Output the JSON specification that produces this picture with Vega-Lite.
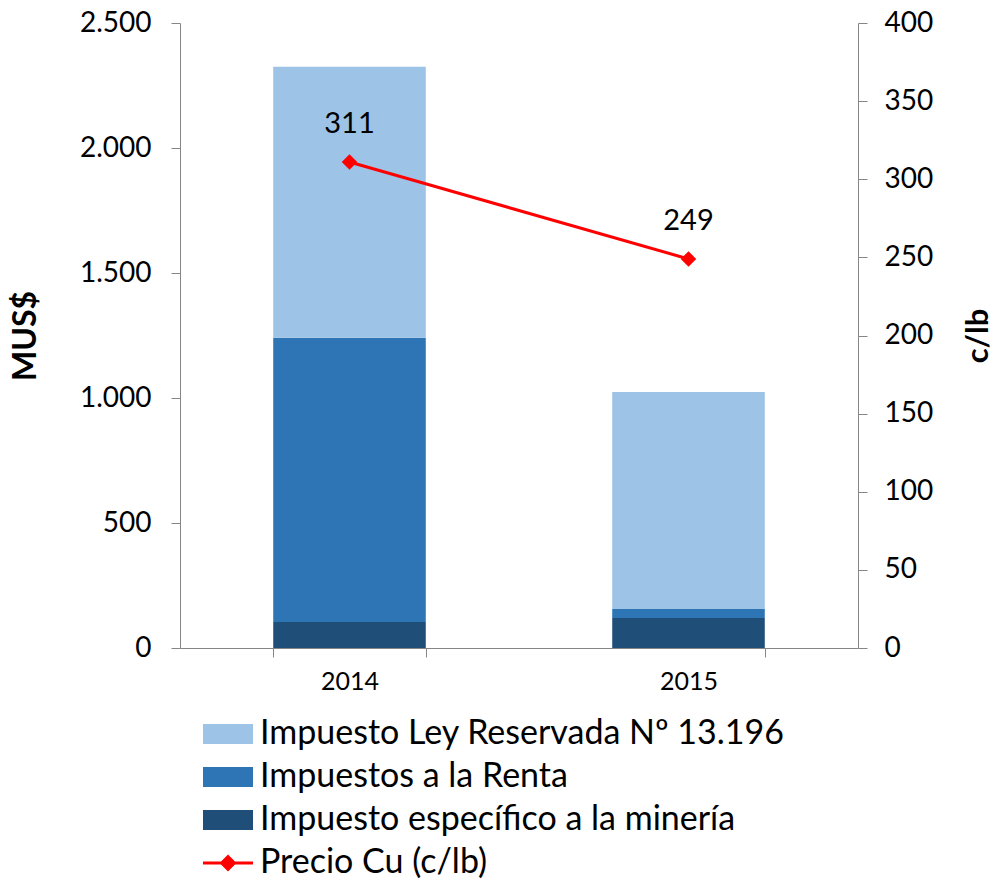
{
  "$schema": "https://vega.github.io/schema/vega-lite/v6.json",
  "width": 678,
  "height": 625,
  "autosize": {"type": "none"},
  "padding": {"left": 180, "top": 23, "right": 137, "bottom": 231},
  "background": "white",
  "config": {
    "view": {"stroke": null},
    "font": "Lato",
    "axis": {"grid": false, "domainColor": "#868686", "tickColor": "#868686", "labelColor": "#000000", "titleColor": "#000000", "labelFont": "Lato", "titleFont": "Lato"}
  },
  "datasets": {
    "impuestos": [
      {"anio": "2014", "serie": "Impuesto específico a la minería", "nivel": 1, "valor": 104},
      {"anio": "2014", "serie": "Impuestos a la Renta", "nivel": 2, "valor": 1137},
      {"anio": "2014", "serie": "Impuesto Ley Reservada Nº 13.196", "nivel": 3, "valor": 1084},
      {"anio": "2015", "serie": "Impuesto específico a la minería", "nivel": 1, "valor": 120},
      {"anio": "2015", "serie": "Impuestos a la Renta", "nivel": 2, "valor": 36},
      {"anio": "2015", "serie": "Impuesto Ley Reservada Nº 13.196", "nivel": 3, "valor": 868}
    ],
    "precio": [
      {"anio": "2014", "precio": 311},
      {"anio": "2015", "precio": 249}
    ]
  },
  "encoding": {
    "x": {
      "field": "anio", "type": "nominal",
      "scale": {"paddingInner": 0.55, "paddingOuter": 0.275},
      "axis": {"title": null, "labelAngle": 0, "labelFontSize": 25, "labelPadding": 12, "tickSize": 9, "tickBand": "extent", "domainColor": "#868686"}
    }
  },
  "layer": [
    {
      "data": {"name": "impuestos"},
      "mark": {"type": "bar"},
      "encoding": {
        "y": {
          "field": "valor", "type": "quantitative", "stack": "zero",
          "scale": {"domain": [0, 2500]},
          "axis": {
            "title": "MUS$", "titleFontSize": 32, "titleFontWeight": "bold", "titlePadding": 37,
            "values": [0, 500, 1000, 1500, 2000, 2500],
            "labelExpr": "replace(format(datum.value, ','), ',', '.')",
            "labelFontSize": 28, "labelPadding": 20, "tickSize": 9
          }
        },
        "order": {"field": "nivel", "type": "quantitative", "sort": "ascending"},
        "color": {
          "field": "serie", "type": "nominal",
          "scale": {
            "domain": ["Impuesto Ley Reservada Nº 13.196", "Impuestos a la Renta", "Impuesto específico a la minería", "Precio Cu  (c/lb)"],
            "range": ["#9DC3E6", "#2E75B6", "#1F4E79", "#FF0000"]
          },
          "legend": {
            "title": null,
            "orient": "none",
            "legendX": 31,
            "legendY": 694,
            "direction": "vertical",
            "symbolSize": 400,
            "labelFontSize": 34,
            "labelFont": "Lato",
            "labelColor": "#000000",
            "labelOffset": 15,
            "rowPadding": 9,
            "labelLimit": 700,
            "encode": {
              "symbols": {
                "update": {
                  "shape": {"signal": "datum.value === 'Precio Cu  (c/lb)' ? 'M-2.5,-0.15L2.5,-0.15L2.5,0.15L-2.5,0.15Z M0,-0.85L0.85,0L0,0.85L-0.85,0Z' : 'M-2.5,-1L2.5,-1L2.5,1L-2.5,1Z'"},
                  "strokeWidth": {"value": 0}
                }
              }
            }
          }
        }
      }
    },
    {
      "data": {"name": "precio"},
      "encoding": {
        "y": {
          "field": "precio", "type": "quantitative",
          "scale": {"domain": [0, 400]},
          "axis": {
            "orient": "right", "title": "c/lb", "titleFontSize": 31, "titleFontWeight": "bold", "titlePadding": 62,
            "titleAngle": -90, "titleBaseline": "bottom",
            "values": [0, 50, 100, 150, 200, 250, 300, 350, 400],
            "labelFontSize": 28, "labelPadding": 17, "tickSize": 9
          }
        }
      },
      "layer": [
        {
          "mark": {"type": "line", "color": "#FF0000", "strokeWidth": 3}
        },
        {
          "mark": {"type": "point", "shape": "diamond", "filled": true, "color": "#FF0000", "size": 240, "opacity": 1}
        },
        {
          "mark": {"type": "text", "dy": -38, "fontSize": 29, "color": "#000000", "font": "Lato"},
          "encoding": {
            "text": {"field": "precio", "type": "quantitative"}
          }
        }
      ]
    }
  ],
  "resolve": {"scale": {"y": "independent"}}
}
